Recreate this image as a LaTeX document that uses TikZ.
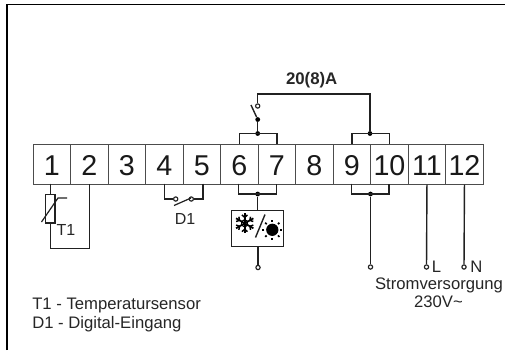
\documentclass[tikz,border=0pt]{standalone}
\usepackage{fontspec}
\setmainfont{Liberation Sans}
\usetikzlibrary{calc}
\definecolor{wire}{gray}{0.13}
\definecolor{boxl}{gray}{0.3}
\tikzset{
  x=0.75pt,y=-0.75pt,
  wirel/.style={draw=wire,line width=1.05pt},
  thin wire/.style={draw=wire,line width=0.9pt},
  term/.style={draw=boxl,line width=0.75pt,minimum width=28.125pt,minimum height=30pt,inner sep=0pt,anchor=north west,font=\fontsize{21.5pt}{22pt}\selectfont,text=black!90,text height=16.9pt,text depth=0pt},
  dotf/.style={circle,fill=black,inner sep=0pt,minimum size=3.6pt},
  open/.style={circle,draw=wire,fill=white,line width=0.85pt,inner sep=0pt,minimum size=3.2pt},
  lab/.style={inner sep=0pt,anchor=base,font=\fontsize{12.5pt}{14pt}\selectfont,text=black!85},
}
\begin{document}
\begin{tikzpicture}
\useasboundingbox (0,0) rectangle (505,350);
\fill[white] (0,0) rectangle (505,350);
\draw[draw=black,line width=1pt] (7,350) -- (7,4.5) -- (505,4.5);
% terminals
\foreach \n [count=\i from 0] in {1,...,12}{
  \node[term] (t\n) at ({32.7+37.5*\i},143.7) {\n};
}
% relay
\coordinate (j67) at (257.7,133.5);
\coordinate (j910) at (370,133.5);
\node[dotf] (d67) at (j67) {};
\node[dotf] (d910) at (j910) {};
\node[dotf] (dsw) at (257.7,119.5) {};
\node[open] (osw) at (257.7,106) {};
\coordinate (bl) at (251,105);
\draw[thin wire] (t6.north) -- (t6.north |- j67) -- (t7.north |- j67) -- (t7.north);
\draw[thin wire] (t9.north) -- (t9.north |- j910) -- (t10.north |- j910) -- (t10.north);
\draw[wirel] (d67) -- (dsw);
\draw[wirel] (dsw) -- (bl);
\draw[wirel] (d910) -- (370,94) -- (257.7,94) -- (osw);
\node[lab,font=\bfseries\fontsize{12.6pt}{14pt}\selectfont] (amp) at (311.7,84) {20(8)A};
% sensor
\node[draw=wire,line width=0.85pt,minimum width=7pt,minimum height=21.5pt,inner sep=0pt] (ntc) at (50.3,208.7) {};
\draw[thin wire] (50.3,183.7) -- (ntc.north);
\draw[thin wire] (ntc.south) -- (50.3,248.5) -- (89.7,248.5) -- (89.7,183.7);
\draw[thin wire] (41.5,222) -- (58,198) -- (67,198);
\node[lab,font=\fontsize{12pt}{14pt}\selectfont] (t1lab) at (66,235) {T1};
% D1
\node[open] (o4) at (175.7,199) {};
\node[open] (o5) at (191.3,199) {};
\draw[thin wire] (164.5,183.7) -- (164.5,199) -- (o4);
\draw[thin wire] (203,183.7) -- (203,199) -- (o5);
\draw[thin wire] (174,205.5) -- (191,198);
\node[lab,font=\fontsize{12pt}{14pt}\selectfont] (d1lab) at (185,224) {D1};
% fan
\node[dotf] (d2) at (257.7,194) {};
\draw[thin wire] (238.7,183.7) -- (238.7,194) -- (276.2,194) -- (276.2,183.7);
\draw[wirel] (d2) -- (257.7,210);
\node[draw=wire,line width=0.85pt,minimum width=39pt,minimum height=26.8pt,inner sep=0pt,anchor=north west,fill=white] (fan) at (231,210) {};
\coordinate (snow) at (244.7,223.3);
\foreach \a in {30,90,...,330}{
  \draw[line width=1.3pt,black] (snow) -- ($(snow)+(\a:10)$);
  \draw[line width=1.1pt,black] ($(snow)+(\a:6)$) -- ($(snow)+(\a:6)+(\a+50:3.6)$);
  \draw[line width=1.1pt,black] ($(snow)+(\a:6)$) -- ($(snow)+(\a:6)+(\a-50:3.6)$);
  \draw[line width=0.9pt,black] ($(snow)+(\a:3.6)$) -- ($(snow)+(\a+60:3.6)$);
}
\draw[wirel] (255.5,237.5) -- (265,214.5);
\node[circle,fill=black,inner sep=0pt,minimum size=9.2pt] (sun) at (272.3,229.8) {};
\foreach \a in {0,45,...,315}{
  \draw[line width=1.3pt,black] ($(sun.center)+(\a:8)$) -- ($(sun.center)+(\a:10)$);
}
\node[open] (o6) at (258,267.5) {};
\draw[wirel] (fan.south -| o6) -- (o6);
% 9-10
\node[dotf] (d3) at (370.5,194) {};
\draw[thin wire] (351.2,183.7) -- (351.2,194) -- (389,194) -- (389,183.7);
\node[open] (o9) at (370.5,267) {};
\draw[wirel] (d3) -- (o9);
% L N
\node[open] (oL) at (426.5,267) {};
\node[open] (oN) at (464,267) {};
\draw[wirel] (t11.south) -- (oL);
\draw[wirel] (t12.south) -- (oN);
\node[lab,anchor=base west] (Llab) at (431.5,272.5) {L};
\node[lab,anchor=base west] (Nlab) at (470,272.5) {N};
\node[lab] (sv) at (439,289) {Stromversorgung};
\node[lab] (v) at (438.5,307.7) {230V\textasciitilde};
\node[lab,anchor=base west] (a) at (32,309) {T1 - Temperatursensor};
\node[lab,anchor=base west] (b) at (32,328) {D1 - Digital-Eingang};
\end{tikzpicture}
\end{document}
